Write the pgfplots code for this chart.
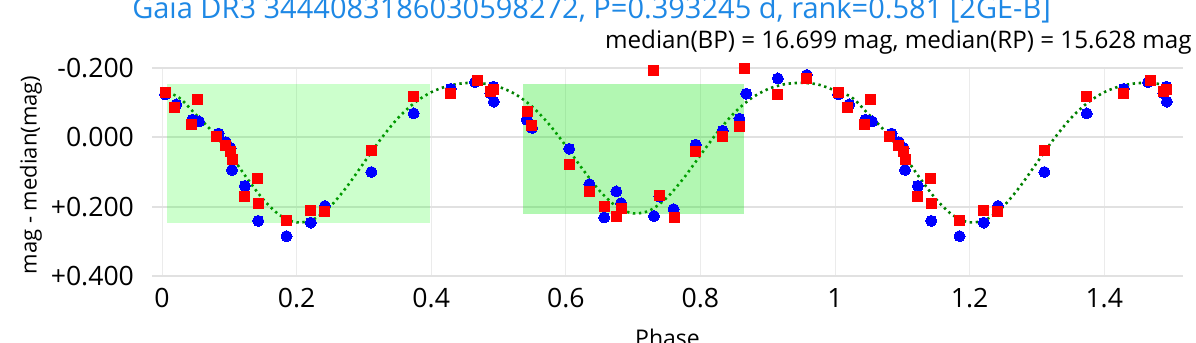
\documentclass[border=0pt]{standalone}
\usepackage{pgfplots}
\pgfplotsset{compat=1.18}
\usepackage{fontspec}
\setmainfont{Open Sans}
\definecolor{titleblue}{RGB}{30,136,229}
\definecolor{bpblue}{RGB}{0,0,255}
\definecolor{rpred}{RGB}{255,0,0}
\definecolor{fitgreen}{RGB}{0,128,0}
\definecolor{gridc}{RGB}{225,225,225}
\definecolor{vgridc}{RGB}{235,235,235}
\begin{document}
\begin{tikzpicture}
\useasboundingbox (0,0) rectangle (598pt,171.5pt);
\begin{axis}[
  scale only axis,
  width=515.5pt, height=104pt,
  at={(76pt,33.5pt)}, anchor=south west,
  xmin=-0.0149, xmax=1.517,
  ymin=-0.2, ymax=0.4, y dir=reverse,
  axis line style={draw=none},
  major tick length=0pt,
  xtick={0,0.2,0.4,0.6,0.8,1,1.2,1.4},
  xticklabels={0,0.2,0.4,0.6,0.8,1,1.2,1.4},
  ytick={-0.2,0,0.2,0.4},
  yticklabels={-0.200,0.000,+0.200,+0.400},
  /pgf/number format/assume math mode=true,
  tick label style={font=\fontsize{13.3}{15}\selectfont},
  xticklabel style={yshift=-2.5pt},
  yticklabel style={xshift=-5.5pt},
  xmajorgrids, ymajorgrids,
  x grid style={color=vgridc, line width=0.5pt},
  y grid style={color=gridc, line width=1pt},
  clip=false,
]
% fitted curve
\addplot[color=fitgreen, line width=1.3pt, dash pattern=on 1.2pt off 1.8pt, smooth] coordinates {
(0,-0.135) (0.025,-0.115) (0.05,-0.066) (0.075,-0.016) (0.1,0.0452) (0.125,0.1147) (0.15,0.1781) (0.175,0.2246) (0.2,0.2454) (0.225,0.2364) (0.25,0.1993) (0.275,0.1414) (0.3,0.0730) (0.325,0.0050) (0.35,-0.0543) (0.375,-0.0994) (0.4,-0.1302) (0.425,-0.1484) (0.45,-0.1564) (0.475,-0.1559) (0.5,-0.1460) (0.525,-0.1245) (0.55,-0.0886) (0.575,-0.0379) (0.6,0.0246) (0.625,0.0919) (0.65,0.1537) (0.675,0.1991) (0.7,0.2194) (0.725,0.2106) (0.75,0.1744) (0.775,0.1179) (0.8,0.0515) (0.825,-0.0140) (0.85,-0.0701) (0.875,-0.1119) (0.9,-0.1390) (0.925,-0.1532) (0.95,-0.1572) (0.975,-0.1524) (1.0,-0.135) (1.025,-0.115) (1.05,-0.066) (1.075,-0.016) (1.1,0.0452) (1.125,0.1147) (1.15,0.1781) (1.175,0.2246) (1.2,0.2454) (1.225,0.2364) (1.25,0.1993) (1.275,0.1414) (1.3,0.0730) (1.325,0.0050) (1.35,-0.0543) (1.375,-0.0994) (1.4,-0.1302) (1.425,-0.1484) (1.45,-0.1564) (1.475,-0.1559) (1.5,-0.1460)
};
% BP
\addplot[only marks, color=bpblue, mark=*, mark size=2.75pt, mark options={draw=bpblue, fill=bpblue, line width=0pt}] coordinates {
(0.0045,-0.124) (0.021,-0.095) (0.045,-0.051) (0.055,-0.046) (0.084,-0.011) (0.095,0.014) (0.102,0.031) (0.104,0.094) (0.123,0.140) (0.143,0.241) (0.185,0.285) (0.221,0.246) (0.242,0.198) (0.311,0.100) (0.374,-0.069) (0.429,-0.140) (0.465,-0.159) (0.488,-0.127) (0.492,-0.146) (0.493,-0.103)
(0.542,-0.051) (0.550,-0.027) (0.605,0.033) (0.635,0.135) (0.657,0.231) (0.675,0.156) (0.682,0.190) (0.731,0.227) (0.739,0.171) (0.760,0.207) (0.793,0.021) (0.833,-0.019) (0.858,-0.054) (0.868,-0.126) (0.915,-0.170) (0.958,-0.180)
(1.0045,-0.124) (1.021,-0.095) (1.045,-0.051) (1.055,-0.046) (1.084,-0.011) (1.095,0.014) (1.102,0.031) (1.104,0.094) (1.123,0.140) (1.143,0.241) (1.185,0.285) (1.221,0.246) (1.242,0.198) (1.311,0.100) (1.374,-0.069) (1.429,-0.140) (1.465,-0.159) (1.488,-0.127) (1.492,-0.146) (1.493,-0.103)
};
% RP
\addplot[only marks, color=rpred, mark=square*, mark size=2.5pt, mark options={draw=rpred, fill=rpred, line width=0pt}] coordinates {
(0.0045,-0.130) (0.019,-0.085) (0.053,-0.109) (0.044,-0.037) (0.081,-0.003) (0.095,0.024) (0.102,0.041) (0.104,0.065) (0.142,0.118) (0.122,0.171) (0.144,0.192) (0.185,0.239) (0.220,0.210) (0.241,0.214) (0.311,0.038) (0.373,-0.117) (0.429,-0.127) (0.469,-0.165) (0.488,-0.133) (0.493,-0.138)
(0.543,-0.074) (0.549,-0.034) (0.605,0.077) (0.635,0.155) (0.657,0.200) (0.682,0.205) (0.676,0.229) (0.730,-0.193) (0.739,0.168) (0.761,0.231) (0.793,0.042) (0.833,-0.001) (0.858,-0.032) (0.866,-0.199) (0.914,-0.124) (0.958,-0.170)
(1.0045,-0.130) (1.019,-0.085) (1.053,-0.109) (1.044,-0.037) (1.081,-0.003) (1.095,0.024) (1.102,0.041) (1.104,0.065) (1.142,0.118) (1.122,0.171) (1.144,0.192) (1.185,0.239) (1.220,0.210) (1.241,0.214) (1.311,0.038) (1.373,-0.117) (1.429,-0.127) (1.469,-0.165) (1.488,-0.133) (1.493,-0.138)
};
% shaded windows
\addplot[draw=none, fill={rgb,255:red,0;green,255;blue,0}, fill opacity=0.2] coordinates {(0.0079,-0.155) (0.398,-0.155) (0.398,0.246) (0.0079,0.246)} -- cycle;
\addplot[draw=none, fill={rgb,255:red,0;green,230;blue,0}, fill opacity=0.3] coordinates {(0.536,-0.155) (0.864,-0.155) (0.864,0.222) (0.536,0.222)} -- cycle;
\end{axis}
\node[anchor=base, text=titleblue, font=\fontsize{14.5}{17}\selectfont, inner sep=0] at (295.75pt,162pt) {Gaia DR3 3444083186030598272, P=0.393245 d, rank=0.581 [2GE-B]};
\node[anchor=base east, font=\fontsize{12.1}{14}\selectfont, inner sep=0] at (596pt,147pt) {median(BP) = 16.699 mag, median(RP) = 15.628 mag};
\node[anchor=base, font=\fontsize{11.5}{14}\selectfont, inner sep=0] at (333.75pt,-2pt) {Phase};
\node[rotate=90, font=\fontsize{11}{13}\selectfont, inner sep=0] at (15.5pt,84pt) {mag - median(mag)};
\end{tikzpicture}
\end{document}
